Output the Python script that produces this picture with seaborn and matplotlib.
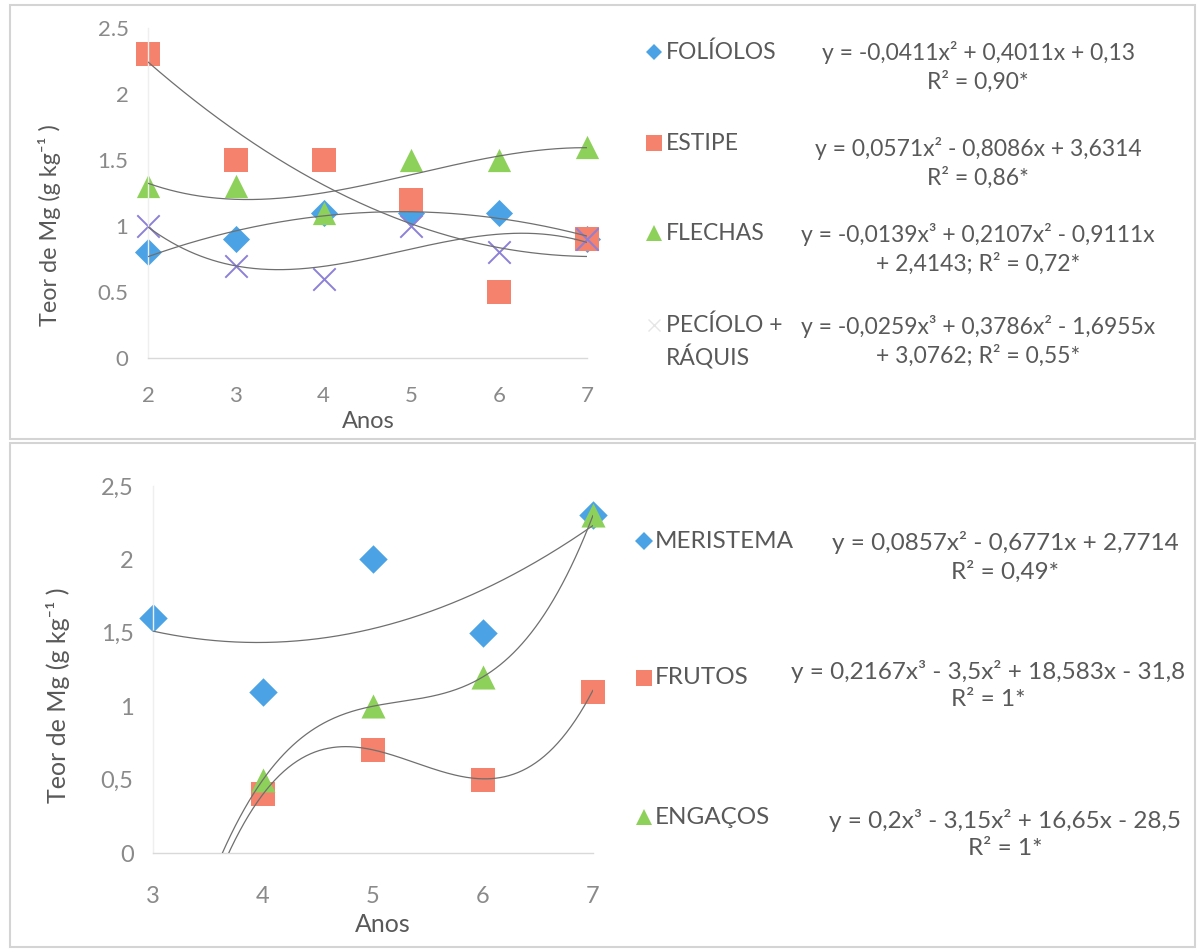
import numpy as np
import pandas as pd
import matplotlib
matplotlib.use("Agg")
import matplotlib.pyplot as plt
import seaborn as sns
from matplotlib.patches import Rectangle
from matplotlib.lines import Line2D

sns.set_theme(style="white")
plt.rcParams['font.family'] = ['Lato', 'DejaVu Sans']

# ---------------- data (top panel) ----------------
anos_top = [2, 3, 4, 5, 6, 7]
foliolos = [0.8, 0.9, 1.1, 1.1, 1.1, 0.9]
estipe = [2.3, 1.5, 1.5, 1.2, 0.5, 0.9]
flechas = [1.3, 1.3, 1.1, 1.5, 1.5, 1.6]
peciolo = [1.0, 0.7, 0.6, 1.0, 0.8, 0.9]
# trendline coefficients (highest power first), as printed on the chart
coef_foliolos = [-0.0411, 0.4011, 0.13]
coef_estipe = [0.0571, -0.8086, 3.6314]
coef_flechas = [-0.0139, 0.2107, -0.9111, 2.4143]
coef_peciolo = [-0.0259, 0.3786, -1.6955, 3.0762]

# ---------------- data (bottom panel) ----------------
anos_mer = [3, 4, 5, 6, 7]
meristema = [1.6, 1.1, 2.0, 1.5, 2.3]
anos_fr = [4, 5, 6, 7]
frutos = [0.4, 0.7, 0.5, 1.1]
engacos = [0.5, 1.0, 1.2, 2.3]
coef_meristema = [0.0857, -0.6771, 2.7714]
coef_frutos = [0.2167, -3.5, 18.583, -31.8]
coef_engacos = [0.2, -3.15, 16.65, -28.5]

top_ticks = ["0", "0.5", "1", "1.5", "2", "2.5"]
bot_ticks = ["0", "0,5", "1", "1,5", "2", "2,5"]

C_BLUE = "#4BA3E6"
C_SAL = "#F4826C"
C_GREEN = "#8DD15A"
C_PURP = "#8C80D8"
C_LINE = "#6f6f6f"
C_TXT = "#595959"
C_TICK = "#8a8a8a"

W, H = 1201, 951
fig = plt.figure(figsize=(W / 100, H / 100), dpi=100)
fig.patch.set_facecolor("white")


def px(x, y):
    return x / W, 1 - y / H


# panel frames
for (x0, y0, x1, y1) in [(10, 5, 1195, 439), (10, 443, 1195, 947)]:
    fig.patches.append(Rectangle((x0 / W, 1 - y1 / H), (x1 - x0) / W, (y1 - y0) / H,
                                 transform=fig.transFigure, fill=False,
                                 edgecolor="#d4d4d4", lw=1.5))


def style_ax(ax, xticks, ylabels, lsize, xpad):
    ax.set_facecolor("none")
    for s in ["top", "right"]:
        ax.spines[s].set_visible(False)
    ax.spines["left"].set_color("#efefef")
    ax.spines["bottom"].set_color("#d9d9d9")
    ax.spines["left"].set_linewidth(1)
    ax.spines["bottom"].set_linewidth(1)
    ax.set_ylim(0, 2.5)
    ax.set_yticks([0, 0.5, 1, 1.5, 2, 2.5])
    ax.set_yticklabels(ylabels)
    ax.set_xticks(xticks)
    ax.set_xticklabels([str(t) for t in xticks])
    ax.tick_params(axis="both", length=0, colors=C_TICK, labelsize=lsize)
    ax.tick_params(axis="y", pad=14)
    ax.tick_params(axis="x", pad=xpad)
    ax.grid(False)
    ax.set_xlabel("")
    ax.set_ylabel("")


def trend(ax, coef, x0, x1):
    xs = np.linspace(x0, x1, 300)
    ys = np.polyval(coef, xs)
    sns.lineplot(x=xs, y=ys, ax=ax, color=C_LINE, lw=0.9, sort=False, zorder=3)


def pts(ax, xv, yv, color, marker, size, lw=0):
    sns.scatterplot(x=xv, y=yv, ax=ax, color=color, marker=marker, s=size,
                    linewidth=lw, edgecolor=color if marker != "x" else None,
                    clip_on=False, zorder=2)


# ---------------- top axes ----------------
ax1 = fig.add_axes([148 / W, 1 - 358 / H, 439 / W, 330 / H])
pts(ax1, anos_top, foliolos, C_BLUE, "D", 190)
pts(ax1, anos_top, estipe, C_SAL, "s", 290)
pts(ax1, anos_top, flechas, C_GREEN, "^", 280)
pts(ax1, anos_top, peciolo, C_PURP, "x", 260, lw=1.4)
for c in [coef_foliolos, coef_estipe, coef_flechas, coef_peciolo]:
    trend(ax1, c, 2, 7)
ax1.set_xlim(2, 7)
style_ax(ax1, anos_top, top_ticks, 16, 20)
fig.text(*px(368, 421), "Anos", ha="center", va="center", fontsize=17, color=C_TXT)
fig.text(*px(50, 225), "Teor de Mg (g kg⁻¹ )", ha="center", va="center",
         rotation=90, fontsize=16.8, color=C_TXT)

# ---------------- bottom axes ----------------
ax2 = fig.add_axes([153 / W, 1 - 853 / H, 440 / W, 367 / H])
pts(ax2, anos_mer, meristema, C_BLUE, "D", 210)
pts(ax2, anos_fr, frutos, C_SAL, "s", 300)
pts(ax2, anos_fr, engacos, C_GREEN, "^", 300)
for c in [coef_meristema, coef_frutos, coef_engacos]:
    trend(ax2, c, 3, 7)
ax2.set_xlim(3, 7)
style_ax(ax2, anos_mer, bot_ticks, 17, 24)
fig.text(*px(383, 925), "Anos", ha="center", va="center", fontsize=18, color=C_TXT)
fig.text(*px(58, 695), "Teor de Mg (g kg⁻¹ )", ha="center", va="center",
         rotation=90, fontsize=18, color=C_TXT)

# ---------------- legend / equations ----------------
def leg_marker(x, y, marker, color, size, lw=0):
    fx, fy = px(x, y)
    fig.add_artist(Line2D([fx], [fy], transform=fig.transFigure, marker=marker,
                          color=color, markersize=size, markeredgewidth=lw if lw else 0,
                          linestyle="none"))


top_entries = [
    ("D", C_BLUE, 8.5, 0, ["FOLÍOLOS"], 52,
     "y = -0,0411x² + 0,4011x + 0,13\nR² = 0,90*", 67),
    ("s", C_SAL, 11, 0, ["ESTIPE"], 143,
     "y = 0,0571x² - 0,8086x + 3,6314\nR² = 0,86*", 163),
    ("^", C_GREEN, 11, 0, ["FLECHAS"], 233,
     "y = -0,0139x³ + 0,2107x² - 0,9111x\n+ 2,4143; R² = 0,72*", 249),
    ("x", "#e6e6e6", 9, 1, ["PECÍOLO +", "RÁQUIS"], 325,
     "y = -0,0259x³ + 0,3786x² - 1,6955x\n+ 3,0762; R² = 0,55*", 341),
]
for mk, col, ms, lw, labels, ly, eq, ey in top_entries:
    leg_marker(654, ly, mk, col, ms, lw)
    for i, lab in enumerate(labels):
        fig.text(*px(666, ly + i * 32), lab, ha="left", va="center",
                 fontsize=16.5, color=C_TXT)
    fig.text(*px(978, ey), eq, ha="center", va="center", fontsize=16.5,
             color=C_TXT, linespacing=1.33, multialignment="center")

bot_entries = [
    ("D", C_BLUE, 9, "MERISTEMA", 541,
     "y = 0,0857x² - 0,6771x + 2,7714\nR² = 0,49*", 557, 1005),
    ("s", C_SAL, 12, "FRUTOS", 678,
     "y = 0,2167x³ - 3,5x² + 18,583x - 31,8\nR² = 1*", 685, 988),
    ("^", C_GREEN, 12, "ENGAÇOS", 817,
     "y = 0,2x³ - 3,15x² + 16,65x - 28,5\nR² = 1*", 834, 1005),
]
for mk, col, ms, lab, ly, eq, ey, ex in bot_entries:
    leg_marker(644, ly, mk, col, ms)
    fig.text(*px(655, ly), lab, ha="left", va="center", fontsize=17.5, color=C_TXT)
    fig.text(*px(ex, ey), eq, ha="center", va="center", fontsize=17.5,
             color=C_TXT, linespacing=1.38, multialignment="center")

fig.savefig("out.png", dpi=100, facecolor="white")
